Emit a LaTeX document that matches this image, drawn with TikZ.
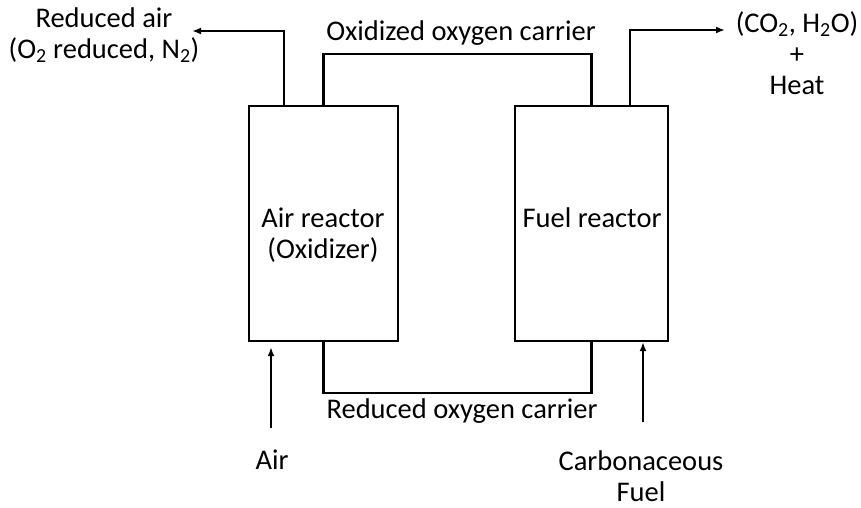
\documentclass[tikz,border=0pt]{standalone}
\usepackage{fontspec}
\setmainfont{Carlito}
\usetikzlibrary{calc,arrows.meta,positioning}

\tikzset{
  reactor/.style={draw,minimum height=235pt,inner sep=0pt},
  txt/.style={align=center,inner sep=0pt}
}

\begin{document}
\begin{tikzpicture}[x=1pt,y=-1pt,>={Latex[length=9pt,width=7pt]},line width=2.3pt,
  font=\fontsize{28.5}{31}\selectfont]
\useasboundingbox (0,0) rectangle (861,508);
\node[reactor,minimum width=149pt] (AR) at (323.5,223.5) {};
\node[reactor,minimum width=153pt] (FR) at (591.5,223.5) {};
\node[txt] (ARtxt) at (323,235) {Air reactor\\(Oxidizer)};
\node[txt] (FRtxt) at (592,218) {Fuel reactor};

\node[txt] (rair) at (104,35) {Reduced air\\(O\textsubscript{2} reduced, N\textsubscript{2})};
\node[txt] (prod) at (797,53) {(CO\textsubscript{2}, H\textsubscript{2}O)\\+\\Heat};
\node[txt] (oxc) at (461,33) {Oxidized oxygen carrier};
\node[txt] (redc) at (462,411) {Reduced oxygen carrier};
\node[txt] (air) at (272,460) {Air};
\node[txt] (fuel) at (641,476) {Carbonaceous\\Fuel};

\coordinate (rairend) at (192,31);
\coordinate (prodend) at (725,30);
\coordinate (airin) at (271,428);
\coordinate (fuelin) at (643,422);

% outlets
\draw[->] ($(AR.north west)!0.24!(AR.north east)$) |- (rairend);
\draw[->] ($(FR.north west)!0.75!(FR.north east)$) |- (prodend);
% carrier loop
\draw (AR.north) -- ++(0,-51) -| (FR.north);
\draw (AR.south) -- ++(0,51) -| (FR.south);
% inlets
\draw[->,shorten >=5pt] (airin) -- (airin |- AR.south);
\draw[->] (fuelin) -- (fuelin |- FR.south);
\end{tikzpicture}
\end{document}
